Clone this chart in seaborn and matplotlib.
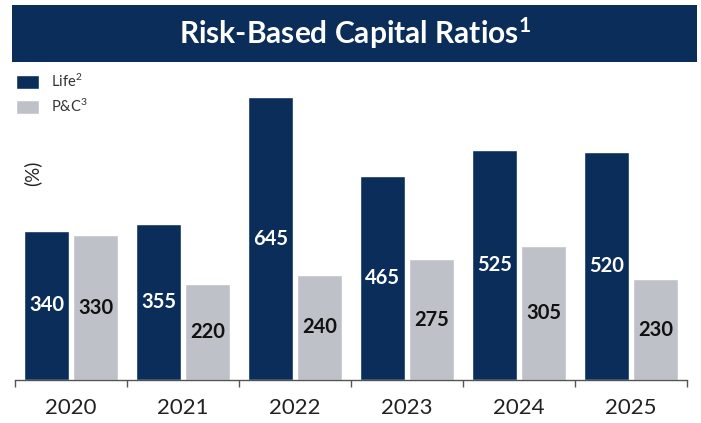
import matplotlib
matplotlib.use("Agg")
import matplotlib.pyplot as plt
import seaborn as sns
import pandas as pd
from matplotlib.patches import Rectangle

years = ["2020", "2021", "2022", "2023", "2024", "2025"]
life = [340, 355, 645, 465, 525, 520]
pc = [330, 220, 240, 275, 305, 230]
series_names = ["Life$^{2}$", "P&C$^{3}$"]
title = r"Risk-Based Capital Ratios$^{\mathbf{1}}$"

NAVY = "#0b2d5a"
GRAY = "#bec2c8"

df = pd.DataFrame({
    "year": years * 2,
    "value": life + pc,
    "series": [series_names[0]] * len(years) + [series_names[1]] * len(years),
})

sns.set_theme(style="white")
plt.rcParams["font.family"] = ["Lato", "DejaVu Sans"]
plt.rcParams["mathtext.fontset"] = "custom"
plt.rcParams["mathtext.rm"] = "Lato"
plt.rcParams["mathtext.it"] = "Lato:italic"
plt.rcParams["mathtext.bf"] = "Lato:bold"

W, H = 701, 423
fig = plt.figure(figsize=(W / 100, H / 100), dpi=100)
ax = fig.add_axes([15 / W, (H - 380) / H, 672 / W, 310 / H])

sns.barplot(data=df, x="year", y="value", hue="series", order=years,
            hue_order=series_names, palette=[NAVY, GRAY], width=0.875,
            gap=0.08, ax=ax, saturation=1, legend=True)

ax.set_ylim(0, 707)
ax.set_xlim(-0.5, len(years) - 0.5)
for s in ["left", "top", "right"]:
    ax.spines[s].set_visible(False)
ax.spines["bottom"].set_color("#555555")
ax.spines["bottom"].set_linewidth(1.0)
ax.set_yticks([])
ax.set_xlabel("")
ax.set_ylabel("")

# ticks at category boundaries, labels at centers
ax.set_xticks([i - 0.5 for i in range(len(years) + 1)])
ax.set_xticklabels([])
ax.set_xticks(range(len(years)), minor=True)
ax.set_xticklabels(years, minor=True, fontsize=16, color="#222222")
ax.tick_params(axis="x", which="major", direction="out", length=5, width=1,
               color="#555555", bottom=True)
ax.tick_params(axis="x", which="minor", length=0, pad=13)

# value labels centered in bars
for ci, cont in enumerate(ax.containers):
    col = "white" if ci == 0 else "#111111"
    for bar, v in zip(cont, life if ci == 0 else pc):
        ax.text(bar.get_x() + bar.get_width() / 2, v / 2, f"{v}",
                ha="center", va="center", fontsize=14.5, fontweight="bold",
                color=col)

# legend
handles, labels = ax.get_legend_handles_labels()
ax.legend(handles, labels, loc="upper left",
          bbox_to_anchor=(16 / W, (H - 73) / H), bbox_transform=fig.transFigure,
          frameon=False, fontsize=10.5, handlelength=1.58, handleheight=1.1,
          handletextpad=0.8, labelspacing=0.5, borderpad=0, borderaxespad=0,
          labelcolor="#333333")

# (%) label
fig.text(32 / W, (H - 173) / H, "(%)", rotation=90, ha="center", va="center",
         fontsize=13.5, color="#222222")

# title banner
fig.patches.append(Rectangle((12 / W, (H - 62) / H), 685 / W, 57 / H,
                             transform=fig.transFigure, facecolor=NAVY,
                             edgecolor="none", zorder=0))
fig.text(355 / W, (H - 33) / H, title, ha="center",
         va="center", fontsize=21.5, fontweight="bold", color="white")

fig.savefig("out.png", dpi=100)
